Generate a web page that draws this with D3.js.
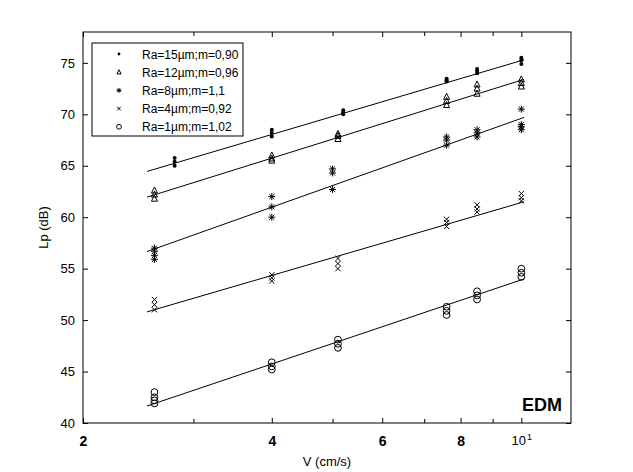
<!DOCTYPE html>
<html><head><meta charset="utf-8">
<script src="https://cdn.jsdelivr.net/npm/d3@7"></script>
<style>
body{margin:0;background:#fff;}
svg{display:block;}
text{font-family:Arial,"Liberation Sans",sans-serif;fill:#000;}
</style>
</head><body>
<svg id="chart" width="633" height="472"></svg>
<script>
// ---- data ----
const seriesLabels = ["Ra=15\u00b5m;m=0,90","Ra=12\u00b5m;m=0,96","Ra=8\u00b5m;m=1,1","Ra=4\u00b5m;m=0,92","Ra=1\u00b5m;m=1,02"];
const seriesMarkers = ["dot","triangle","star","x","circle"];

const v15  = [2.8,2.8,2.8, 4,4,4, 5.2,5.2,5.2, 7.6,7.6,7.6, 8.5,8.5,8.5, 10,10,10];
const lp15 = [65.75,65.4,65.0, 68.5,68.2,67.85, 70.4,70.2,70.0, 73.45,73.3,73.2, 74.4,74.2,74.0, 75.5,75.25,74.9];

const v12  = [2.6,2.6,2.6, 4,4,4, 5.1,5.1,5.1, 7.6,7.6,7.6, 8.5,8.5,8.5, 10,10,10];
const lp12 = [62.6,62.2,61.8, 66.0,65.7,65.5, 68.1,67.9,67.6, 71.7,71.3,70.9, 72.9,72.5,72.0, 73.4,73.05,72.7];

const v8   = [2.6,2.6,2.6,2.6, 4,4,4, 5.0,5.0,5.0, 7.6,7.6,7.6, 8.5,8.5,8.5, 10,10,10,10];
const lp8  = [57.0,56.7,56.3,55.9, 62.0,61.0,60.0, 64.7,64.3,62.7, 67.8,67.5,67.0, 68.5,68.2,67.8, 70.5,69.0,68.8,68.5];

const v4   = [2.6,2.6,2.6, 4,4,4, 5.1,5.1,5.1, 7.6,7.6,7.6, 8.5,8.5,8.5, 10,10,10];
const lp4  = [52.0,51.5,51.0, 54.4,54.1,53.8, 56.0,55.5,55.0, 59.8,59.5,59.1, 61.2,60.8,60.5, 62.3,61.9,61.6];

const v1   = [2.6,2.6,2.6,2.6, 4,4,4, 5.1,5.1,5.1, 7.6,7.6,7.6, 8.5,8.5,8.5, 10,10,10];
const lp1  = [43.0,42.5,42.2,41.9, 45.9,45.5,45.2, 48.1,47.7,47.3, 51.3,50.9,50.5, 52.8,52.4,52.0, 55.0,54.6,54.2];

// fitted lines: V range and Lp at both ends
const fitV     = [2.53, 10.1];
const fitStart = [64.45, 61.95, 56.66, 50.8, 41.65];
const fitEnd   = [75.3, 73.4, 69.7, 61.5, 54.0];

const xTicks = [2,4,6,8,10];
const xMinorTicks = [3,5,7,9];
const yTicks = [40,45,50,55,60,65,70,75];

// ---- layout ----
const svg = d3.select("#chart");
const L = 83, R = 571, T = 32, B = 423;
const x = d3.scaleLog().domain([2,12]).range([L,R]);
const y = d3.scaleLinear().domain([40,78]).range([B,T]);

svg.append("rect").attr("width",633).attr("height",472).attr("fill","#fff");

const seriesV = [v15,v12,v8,v4,v1];
const seriesLp = [lp15,lp12,lp8,lp4,lp1];

function marker(sel, type, s) {
  sel.attr("fill","none").attr("stroke","#000").attr("stroke-width",1);
  if (type === "dot") {
    sel.append("circle").attr("r",2*s).attr("fill","#000").attr("stroke","none");
  } else if (type === "triangle") {
    sel.append("path").attr("d",`M0,${-3.5*s}L${3*s},${2.5*s}L${-3*s},${2.5*s}Z`);
  } else if (type === "star") {
    const r = 3.5*s, d = r*0.72;
    sel.append("path").attr("d",`M0,${-r}V${r}M${-r},0H${r}M${-d},${-d}L${d},${d}M${-d},${d}L${d},${-d}`);
  } else if (type === "x") {
    const r = 2.6*s;
    sel.append("path").attr("d",`M${-r},${-r}L${r},${r}M${-r},${r}L${r},${-r}`);
  } else if (type === "circle") {
    sel.append("circle").attr("r",3.4*s);
  }
}

// fit lines
const plot = svg.append("g");
const line = d3.line().x(d=>x(d[0])).y(d=>y(d[1]));
fitStart.forEach((s,i)=>{
  plot.append("path")
    .attr("d", line([[fitV[0], s],[fitV[1], fitEnd[i]]]))
    .attr("fill","none").attr("stroke","#000").attr("stroke-width",1);
});

// points
seriesV.forEach((vs,i)=>{
  const g = plot.append("g");
  vs.forEach((v,j)=>{
    const m = g.append("g").attr("transform",`translate(${x(v)},${y(seriesLp[i][j])})`);
    marker(m, seriesMarkers[i], 1);
  });
});

// axes
const fmt = d => d === 10 ? "10" : String(d);
const ax = svg.append("g").attr("class","axes");
const xb = ax.append("g").attr("transform",`translate(0,${B})`)
  .call(d3.axisBottom(x).tickValues(xTicks).tickFormat(fmt).tickSizeInner(-5).tickSizeOuter(0).tickPadding(13));
const xbm = ax.append("g").attr("transform",`translate(0,${B})`)
  .call(d3.axisBottom(x).tickValues(xMinorTicks).tickFormat("").tickSizeInner(-4).tickSizeOuter(0));
const xt = ax.append("g").attr("transform",`translate(0,${T})`)
  .call(d3.axisTop(x).tickValues(xTicks).tickFormat("").tickSizeInner(-5).tickSizeOuter(0));
const xtm = ax.append("g").attr("transform",`translate(0,${T})`)
  .call(d3.axisTop(x).tickValues(xMinorTicks).tickFormat("").tickSizeInner(-4).tickSizeOuter(0));
const yl = ax.append("g").attr("transform",`translate(${L},0)`)
  .call(d3.axisLeft(y).tickValues(yTicks).tickFormat(d3.format("d")).tickSizeInner(-5).tickSizeOuter(0).tickPadding(8));
const yr = ax.append("g").attr("transform",`translate(${R},0)`)
  .call(d3.axisRight(y).tickValues(yTicks).tickFormat("").tickSizeInner(-5).tickSizeOuter(0));

ax.selectAll(".domain").remove();
ax.selectAll(".tick line").attr("stroke","#000");
svg.append("rect").attr("x",L).attr("y",T).attr("width",R-L).attr("height",B-T)
  .attr("fill","none").attr("stroke","#000").attr("stroke-width",1);

yl.selectAll("text").attr("font-size",13).attr("font-family","Arial, 'Liberation Sans', sans-serif");
xb.selectAll("text").attr("font-size",14).attr("font-weight","bold")
  .attr("font-family","Arial, 'Liberation Sans', sans-serif");
xb.selectAll(".tick").filter(d=>d===10).select("text")
  .attr("font-weight","normal").attr("font-size",13)
  .text(null)
  .call(t=>{ t.append("tspan").text("10");
             t.append("tspan").attr("font-size",9).attr("dy","-0.55em").attr("dx","1").text("1"); });

// axis labels
svg.append("text").attr("x",(L+R)/2).attr("y",466).attr("text-anchor","middle")
  .attr("font-size",13).text("V (cm/s)");
svg.append("text").attr("transform",`translate(48,${(T+B)/2}) rotate(-90)`)
  .attr("text-anchor","middle").attr("font-size",13).text("Lp (dB)");

// annotation
svg.append("text").attr("x",562).attr("y",411).attr("text-anchor","end")
  .attr("font-size",18).attr("font-weight","bold").text("EDM");

// legend
const lg = svg.append("g");
lg.append("rect").attr("x",92).attr("y",43).attr("width",151).attr("height",93)
  .attr("fill","#fff").attr("stroke","#000").attr("stroke-width",1);
seriesLabels.forEach((lab,i)=>{
  const cy = 54 + i*18.2;
  const m = lg.append("g").attr("transform",`translate(119,${cy})`);
  marker(m, seriesMarkers[i], 0.7);
  lg.append("text").attr("x",142).attr("y",cy+4.5).attr("font-size",12).text(lab);
});
</script>
</body></html>
